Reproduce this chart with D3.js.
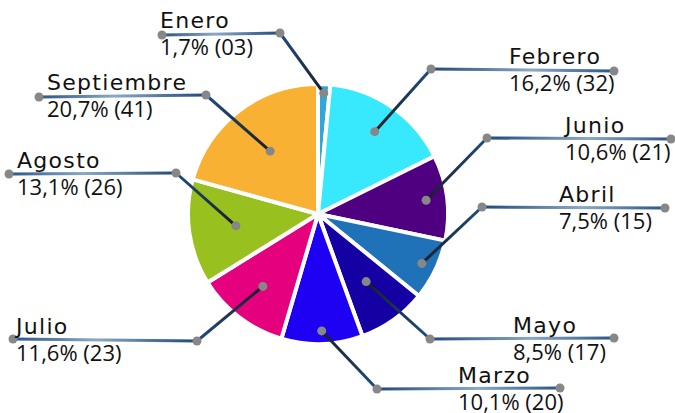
<!DOCTYPE html>
<html lang="es">
<head>
<meta charset="UTF-8">
<script src="https://d3js.org/d3.v7.min.js"></script>
<style>
    body { margin: 0; background: #fff; }
    svg { display: block; }
    .lbl { font-family: "DejaVu Sans", sans-serif; font-size: 22px; letter-spacing: 1.3px; fill: #111; }
    .val { font-family: "Open Sans", sans-serif; font-size: 22px; fill: #111; }
</style>
</head>
<body>
<div id="chart"></div>
<script>
// data, clockwise from 12 o'clock
var months = ["Enero", "Febrero", "Junio", "Abril", "Mayo", "Marzo", "Julio", "Agosto", "Septiembre"];
var counts = [3, 32, 21, 15, 17, 20, 23, 26, 41];
var percents = ["1,7%", "16,2%", "10,6%", "7,5%", "8,5%", "10,1%", "11,6%", "13,1%", "20,7%"];
var countText = ["03", "32", "21", "15", "17", "20", "23", "26", "41"];
var colors = ["#2fa6dc", "#38e9fd", "#4e0080", "#1f72b8", "#1400a3", "#1e00f2", "#e5007e", "#98c01f", "#f8b133"];

// label placement: elbow (ex,ey), far end (lx,ly), text x, dot radius in the slice
var labelLayout = [
    { ex: 280, ey: 33,  lx: 162, ly: 35,  tx: 160, r: 121 },
    { ex: 431, ey: 69,  lx: 614, ly: 71,  tx: 509, r: 100 },
    { ex: 487, ey: 138, lx: 671, ly: 139, tx: 565, r: 109 },
    { ex: 482, ey: 207, lx: 665, ly: 208, tx: 559, r: 115 },
    { ex: 430, ey: 339, lx: 614, ly: 338, tx: 513, r: 83 },
    { ex: 377, ey: 389, lx: 560, ly: 388, tx: 458, r: 117 },
    { ex: 197, ey: 341, lx: 13,  ly: 339, tx: 16,  r: 91 },
    { ex: 176, ey: 173, lx: 9,   ly: 174, tx: 17,  r: 83 },
    { ex: 206, ey: 95,  lx: 39,  ly: 97,  tx: 47,  r: 79 }
];

var width = 675, height = 413;
var cx = 318, cy = 214, radius = 130;

var svg = d3.select("#chart").append("svg")
    .attr("width", width)
    .attr("height", height);

var defs = svg.append("defs");

var data = months.map(function(m, i) {
    return { month: m, value: counts[i], pct: percents[i], n: countText[i], color: colors[i], lay: labelLayout[i] };
});

var pie = d3.pie().sort(null).value(function(d) { return d.value; });
var arcs = pie(data);

var arc = d3.arc().innerRadius(0).outerRadius(radius);

var g = svg.append("g").attr("transform", "translate(" + cx + "," + cy + ")");

g.selectAll("path.slice")
    .data(arcs)
    .enter()
    .append("path")
        .attr("class", "slice")
        .attr("d", arc)
        .attr("fill", function(d) { return d.data.color; })
        .attr("stroke", "#fff")
        .attr("stroke-width", 4)
        .attr("stroke-linejoin", "round");

// leader lines + labels
arcs.forEach(function(d, i) {
    var L = d.data.lay;
    var mid = (d.startAngle + d.endAngle) / 2;
    var px = cx + Math.sin(mid) * L.r;
    var py = cy - Math.cos(mid) * L.r;

    var g1 = defs.append("linearGradient")
        .attr("id", "lead" + i)
        .attr("gradientUnits", "userSpaceOnUse")
        .attr("x1", px).attr("y1", py).attr("x2", L.ex).attr("y2", L.ey);
    g1.append("stop").attr("offset", "0%").attr("stop-color", "#1a1d26");
    g1.append("stop").attr("offset", "100%").attr("stop-color", "#1f4e80");

    var g2 = defs.append("linearGradient")
        .attr("id", "hor" + i)
        .attr("gradientUnits", "userSpaceOnUse")
        .attr("x1", L.ex).attr("y1", L.ey).attr("x2", L.lx).attr("y2", L.ly);
    g2.append("stop").attr("offset", "0%").attr("stop-color", "#20497a");
    g2.append("stop").attr("offset", "55%").attr("stop-color", "#8aa9c6");
    g2.append("stop").attr("offset", "100%").attr("stop-color", "#2a5585");

    svg.append("line")
        .attr("x1", px).attr("y1", py).attr("x2", L.ex).attr("y2", L.ey)
        .attr("stroke", "url(#lead" + i + ")")
        .attr("stroke-width", 3);

    svg.append("line")
        .attr("x1", L.ex).attr("y1", L.ey).attr("x2", L.lx).attr("y2", L.ly)
        .attr("stroke", "url(#hor" + i + ")")
        .attr("stroke-width", 3);

    [[px, py], [L.ex, L.ey], [L.lx, L.ly]].forEach(function(p) {
        svg.append("circle")
            .attr("cx", p[0]).attr("cy", p[1]).attr("r", 4.5)
            .attr("fill", "#878787");
    });

    var baseY = (L.ey + L.ly) / 2;
    svg.append("text")
        .attr("class", "lbl")
        .attr("x", L.tx)
        .attr("y", baseY - 6)
        .text(d.data.month);

    svg.append("text")
        .attr("class", "val")
        .attr("x", L.tx)
        .attr("y", baseY + 21)
        .text(d.data.pct + " (" + d.data.n + ")");
});
</script>
</body>
</html>
